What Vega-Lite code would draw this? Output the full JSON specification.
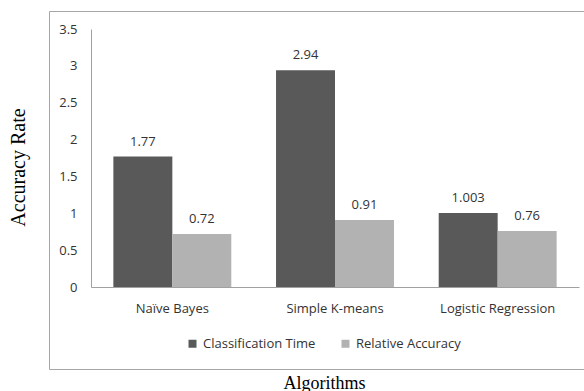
{
  "$schema": "https://vega.github.io/schema/vega-lite/v6.json",
  "width": 535,
  "height": 358,
  "autosize": {"type": "none"},
  "padding": {"left": 49, "top": 11, "right": 0, "bottom": 22},
  "background": "white",
  "config": {
    "view": {"stroke": "#a6a6a6", "strokeWidth": 1},
    "axis": {"labelFont": "Open Sans", "labelFontSize": 13, "labelColor": "#333333", "grid": false, "ticks": false, "domainColor": "#a0a0a0"}
  },
  "data": {
    "values": [
      {"algorithm": "Naïve Bayes", "metric": "Classification Time", "value": 1.77},
      {"algorithm": "Naïve Bayes", "metric": "Relative Accuracy", "value": 0.72},
      {"algorithm": "Simple K-means", "metric": "Classification Time", "value": 2.94},
      {"algorithm": "Simple K-means", "metric": "Relative Accuracy", "value": 0.91},
      {"algorithm": "Logistic Regression", "metric": "Classification Time", "value": 1.003},
      {"algorithm": "Logistic Regression", "metric": "Relative Accuracy", "value": 0.76}
    ]
  },
  "encoding": {
    "x": {
      "field": "algorithm", "type": "nominal",
      "sort": ["Naïve Bayes", "Simple K-means", "Logistic Regression"],
      "scale": {"range": [42, 530], "paddingInner": 0.275, "paddingOuter": 0.1375},
      "axis": {
        "offset": -82, "labelAngle": 0, "labelPadding": 15,
        "title": "Algorithms", "titleFont": "Liberation Serif", "titleFontSize": 18, "titleFontWeight": "normal", "titleColor": "black",
        "titleX": 275, "titleY": 96, "titleAlign": "center", "titleBaseline": "middle"
      }
    },
    "xOffset": {"field": "metric", "type": "nominal", "sort": ["Classification Time", "Relative Accuracy"], "scale": {"paddingInner": 0, "paddingOuter": 0}},
    "y": {
      "field": "value", "type": "quantitative",
      "scale": {"domain": [0, 3.5], "range": [276, 18], "nice": false, "zero": true},
      "axis": {
        "offset": -42, "values": [0, 0.5, 1, 1.5, 2, 2.5, 3, 3.5], "format": "~f", "labelPadding": 14,
        "title": "Accuracy Rate", "titleFont": "Liberation Serif", "titleFontSize": 20, "titleFontWeight": "normal", "titleColor": "black",
        "titleAngle": -90, "titleX": -73, "titleY": 156, "titleAlign": "center", "titleBaseline": "middle"
      }
    }
  },
  "layer": [
    {
      "mark": {"type": "bar"},
      "encoding": {
        "color": {
          "field": "metric", "type": "nominal",
          "scale": {"domain": ["Classification Time", "Relative Accuracy"], "range": ["#595959", "#b2b2b2"]},
          "legend": {
            "title": null, "orient": "none", "direction": "horizontal", "legendX": 137, "legendY": 326,
            "symbolType": "square", "symbolSize": 64, "symbolStrokeWidth": 0, "symbolOpacity": 1,
            "labelFont": "Open Sans", "labelFontSize": 13, "labelColor": "#333333", "labelOffset": 4,
            "columnPadding": 23, "padding": 0
          }
        }
      }
    },
    {
      "mark": {"type": "text", "baseline": "bottom", "dy": -8, "font": "Open Sans", "fontSize": 13, "color": "#333333"},
      "encoding": {
        "text": {"field": "value", "type": "quantitative"}
      }
    }
  ]
}
